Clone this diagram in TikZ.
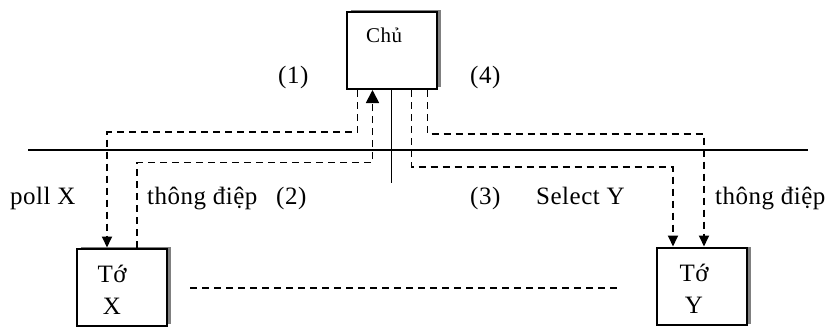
\documentclass[tikz,border=0pt]{standalone}
\usepackage{fontspec}
\setmainfont{Liberation Serif}[LetterSpace=2]
\usetikzlibrary{arrows.meta,calc}
\begin{document}
\begin{tikzpicture}[x=1pt,y=-1pt,
  txt/.style={font=\fontsize{25}{30}\selectfont, inner sep=0pt, anchor=base west},
  boxst/.style={draw=black, line width=2pt, fill=white, minimum width=90pt, minimum height=77pt, inner sep=0pt},
  shadowst/.style={fill=black!50, draw=none, minimum width=90pt, minimum height=77pt, inner sep=0pt},
  dl/.style={line width=1.8pt, dash pattern=on 7pt off 5pt},
  arr/.style={-{Triangle[width=10pt,length=11pt]}},
  bigarr/.style={-{Triangle[width=13pt,length=13pt]}},
  solidline/.style={line width=1.8pt}]
\useasboundingbox (0,0) rectangle (831,327);
% shadows
\node[shadowst] at (395.5,48.5) {};
\node[shadowst] at (126,285) {};
\node[shadowst] at (706,285) {};
% boxes
\node[boxst] (chu) at (391.5,50.5) {};
\node[boxst] (tx) at (122,287) {};
\node[boxst] (ty) at (702,286) {};
\node[txt, font=\fontsize{21}{25}\selectfont] (chut) at (366,42) {Chủ};
\node[font=\fontsize{25}{31.5}\selectfont, align=center, inner sep=0pt] (txt1) at (112,290) {Tớ\\X};
\node[font=\fontsize{25}{31.5}\selectfont, align=center, inner sep=0pt] (tyt1) at (694,289) {Tớ\\Y};
% bus line
\coordinate (hl) at (28,150);
\coordinate (hr) at (808,150);
\draw[solidline] (hl) -- (hr);
\coordinate (vend) at (391.5,183);
\draw[solidline] (chu.south) -- (vend);
% dashed connectors
\draw[dl,arr] ([xshift=12pt]chu.south west) -- ++(0,42) -| ([xshift=31pt]tx.north west);
\draw[dl,bigarr] ([xshift=61pt]tx.north west) -- ++(0,-85) -| ([xshift=27pt]chu.south west);
\draw[dl,arr] ([xshift=66pt]chu.south west) -- ++(0,77) -| ([xshift=17pt]ty.north west);
\draw[dl,arr] ([xshift=82pt]chu.south west) -- ++(0,44) -| ([xshift=48pt]ty.north west);
% bottom dashed line
\coordinate (bl) at (190,288);
\coordinate (br) at (620,288);
\draw[dl] (bl) -- (br);
% labels
\node[txt] (l1) at (278,83) {(1)};
\node[txt] (l4) at (470,83) {(4)};
\node[txt] (lp) at (10,204) {poll X};
\node[txt] (lt1) at (147,204) {thông điệp};
\node[txt] (l2) at (276,204) {(2)};
\node[txt] (l3) at (470,204) {(3)};
\node[txt] (ls) at (536,204) {Select Y};
\node[txt] (lt2) at (715,204) {thông điệp};
\end{tikzpicture}
\end{document}
